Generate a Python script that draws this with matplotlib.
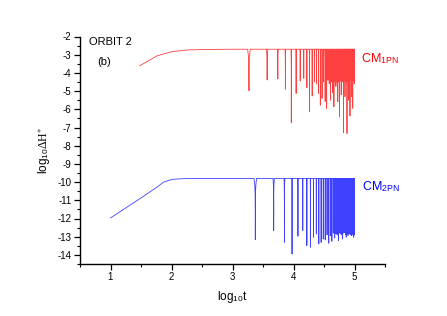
import numpy as np
import matplotlib
matplotlib.use("Agg")
import matplotlib.pyplot as plt
from matplotlib.ticker import MultipleLocator

plt.rcParams['font.family'] = ['Liberation Sans', 'DejaVu Sans']
plt.rcParams['mathtext.fontset'] = 'custom'
plt.rcParams['mathtext.rm'] = 'Liberation Serif'
plt.rcParams['mathtext.sf'] = 'Liberation Sans'
plt.rcParams['mathtext.it'] = 'Liberation Serif:italic'

# ---- data (log10 t, log10 dH) ----
red_rise_x = [1.48, 1.60, 1.76, 1.90, 2.01, 2.25, 2.60, 3.00]
red_rise_y = [-3.60, -3.38, -3.07, -2.93, -2.83, -2.74, -2.71, -2.70]
red_plateau = -2.70
red_dip_x = [3.270, 3.568, 3.743, 3.867, 3.964, 4.043, 4.110, 4.168, 4.219, 4.264,
             4.306, 4.343, 4.378, 4.410, 4.440, 4.468, 4.494, 4.519, 4.543, 4.565,
             4.586, 4.606, 4.626, 4.644, 4.662, 4.679, 4.695, 4.711, 4.726, 4.741,
             4.755, 4.769, 4.782, 4.795, 4.808, 4.820, 4.832, 4.844, 4.855, 4.866,
             4.877, 4.887, 4.897, 4.907, 4.917, 4.926, 4.936, 4.945, 4.954, 4.963,
             4.971, 4.980, 4.988, 4.996]
red_dip_y = [-4.98, -4.39, -4.33, -4.90, -6.74, -5.13, -4.45, -4.30, -4.81, -6.13,
             -5.27, -4.50, -4.60, -5.13, -5.77, -5.40, -4.50, -5.57, -5.95, -4.40,
             -4.60, -5.50, -4.50, -5.08, -5.86, -4.50, -4.74, -4.50, -5.58, -4.50,
             -6.41, -4.40, -5.20, -4.40, -4.50, -7.29, -4.40, -5.31, -4.40, -4.50,
             -7.33, -4.40, -4.40, -5.50, -4.40, -6.37, -4.40, -4.40, -5.31, -4.40,
             -5.95, -4.40, -4.30, -4.60]

blue_rise_x = [1.00, 1.25, 1.50, 1.76, 1.87, 2.01, 2.20, 2.60, 3.00]
blue_rise_y = [-11.97, -11.42, -10.87, -10.28, -10.00, -9.85, -9.81, -9.80, -9.80]
blue_plateau = -9.80
blue_dip_x = [3.374, 3.675, 3.851, 3.976, 4.073, 4.152, 4.219, 4.277, 4.328, 4.374,
              4.415, 4.453, 4.488, 4.520, 4.550, 4.578, 4.604, 4.629, 4.653, 4.675,
              4.696, 4.716, 4.736, 4.754, 4.772, 4.789, 4.805, 4.821, 4.836, 4.851,
              4.865, 4.879, 4.893, 4.905, 4.918, 4.930, 4.942, 4.954, 4.965, 4.976,
              4.987, 4.997]
blue_dip_y = [-13.16, -12.66, -13.31, -13.95, -12.97, -12.66, -13.49, -13.58, -13.03, -12.85,
              -13.40, -13.31, -13.13, -13.18, -12.90, -13.36, -12.94, -13.25, -12.80, -13.07,
              -12.85, -12.90, -13.22, -12.80, -12.85, -12.90, -13.13, -12.80, -12.77, -12.90,
              -13.03, -12.80, -12.94, -12.80, -12.85, -12.85, -12.90, -12.94, -12.80, -12.90,
              -13.03, -12.90]

x_end = 5.0


def build(rise_x, rise_y, plateau, dip_x, dip_y, w):
    xs = list(rise_x)
    ys = list(rise_y)
    offs = np.array([-1, -0.4, -0.15, -0.05, -0.015, 0, 0.015, 0.05, 0.15, 0.4, 1.0])
    for dx, dy in zip(dip_x, dip_y):
        t0 = 10 ** dx
        t = t0 + offs * w
        r = np.maximum(np.abs(t - t0) / w, 10 ** (dy - plateau))
        y = plateau + np.log10(np.minimum(r, 1.0))
        xs.extend(np.log10(t))
        ys.extend(y)
    xs.append(x_end)
    ys.append(plateau)
    return np.array(xs), np.array(ys)


rx, ry = build(red_rise_x, red_rise_y, red_plateau, red_dip_x, red_dip_y, 90)
bx, by = build(blue_rise_x, blue_rise_y, blue_plateau, blue_dip_x, blue_dip_y, 110)

fig = plt.figure(figsize=(4.47, 3.16), dpi=100)
ax = fig.add_axes([80 / 447, 1 - 264 / 316, 305 / 447, (264 - 36.5) / 316])

ax.plot(rx, ry, color='#ff0000', lw=0.6, alpha=0.75)
ax.plot(bx, by, color='#0000ff', lw=0.6, alpha=0.75)

ax.set_xlim(0.5, 5.5)
ax.set_ylim(-14.5, -2)
ax.xaxis.set_minor_locator(MultipleLocator(0.5))
ax.yaxis.set_minor_locator(MultipleLocator(0.5))
ax.set_xticks([1, 2, 3, 4, 5])
ax.set_xticklabels(['1', '2', '3', '4', '5'])
ax.set_yticks(list(range(-14, -1)))
ax.set_yticklabels(['-%d' % (-v) for v in range(-14, -1)])
ax.spines['top'].set_visible(False)
ax.spines['right'].set_visible(False)
for s in ('left', 'bottom'):
    ax.spines[s].set_linewidth(1.0)
ax.tick_params(which='major', direction='out', length=4, width=0.9, labelsize=7, pad=2)
ax.tick_params(which='minor', direction='out', length=2.2, width=0.8)

ax.set_xlabel(r'log$_{\mathsf{10}}$t', fontsize=8.5, labelpad=5)
ax.set_ylabel(r'log$_{\mathsf{10}}$$\mathrm{\Delta H}^{\ast}$', fontsize=8.5, labelpad=4)

fig.text(89 / 447, 1 - 41.7 / 316, 'ORBIT 2', fontsize=8, va='center', ha='left')
fig.text(97 / 447, 1 - 62 / 316, '(b)', fontsize=8, va='center', ha='left')
fig.text(361 / 447, 1 - 59 / 316, r'CM$_{\mathsf{1PN}}$', fontsize=9, color='#ff0000', va='center', ha='left')
fig.text(362 / 447, 1 - 187 / 316, r'CM$_{\mathsf{2PN}}$', fontsize=9, color='#0000ff', va='center', ha='left')

fig.savefig('out.png', dpi=100)
